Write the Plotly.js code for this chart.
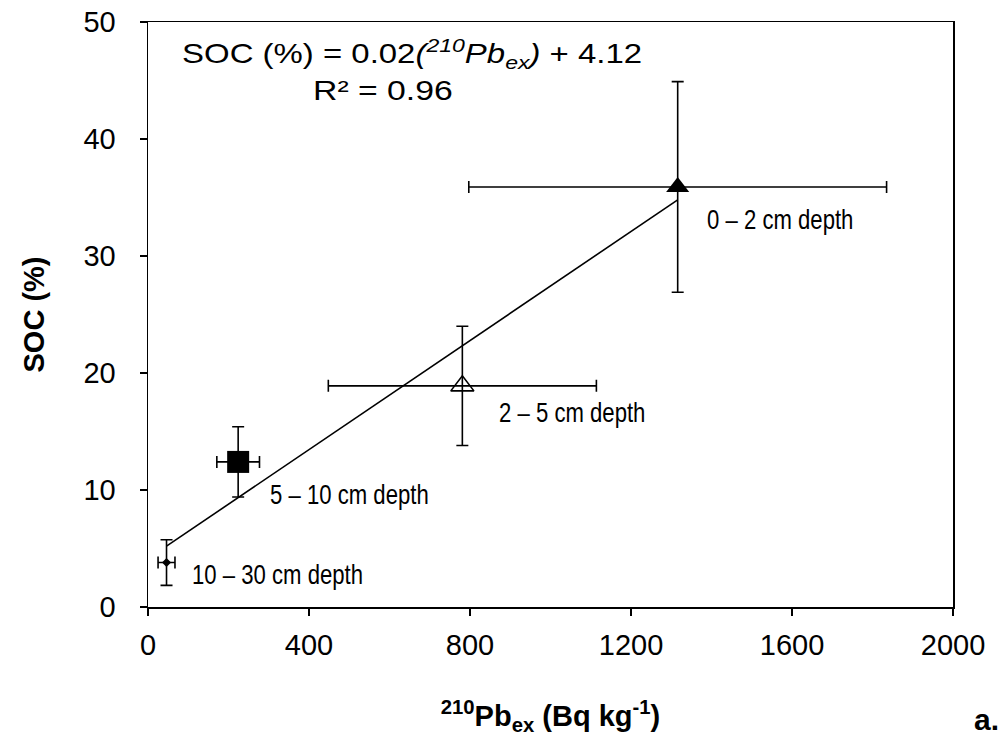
<!DOCTYPE html>
<html>
<head>
<meta charset="utf-8">
<script src="https://cdn.plot.ly/plotly-3.0.1.min.js"></script>
<style>html,body{margin:0;padding:0;background:#fff;}#chart{width:1004px;height:749px;}</style>
</head>
<body>
<div id="chart"></div>
<script>
// Data
const depths = ["0 – 2 cm depth", "2 – 5 cm depth", "5 – 10 cm depth", "10 – 30 cm depth"];
const pb210 = [1316, 781, 224, 46];
const pbErr = [519, 333, 53, 21];
const soc = [35.9, 18.9, 12.4, 3.8];
const socErr = [9.0, 5.1, 3.0, 1.95];
const symbols = ["triangle-up", "triangle-up-open", "square", "diamond"];
const sizes = [20, 20, 22, 7];
const trendX = [46, 1316];
const trendY = [5.2, 34.8];
const xTicks = [0, 400, 800, 1200, 1600, 2000];
const yTicks = [0, 10, 20, 30, 40, 50];
// label anchor positions (data coords)
const labelX = [1384, 867, 298, 104];
const labelY = [33.1, 16.6, 9.6, 2.74];

const FONT = "Liberation Sans, Arial, sans-serif";

const traces = [];
traces.push({
  x: trendX, y: trendY, mode: "lines", type: "scatter",
  line: {color: "#000", width: 1.6}, hoverinfo: "skip", showlegend: false
});
for (let i = 0; i < depths.length; i++) {
  traces.push({
    x: [pb210[i]], y: [soc[i]], type: "scatter", mode: "markers", name: depths[i],
    marker: {symbol: symbols[i], size: sizes[i], color: "#000",
             line: {color: "#000", width: symbols[i].endsWith("open") ? 1.6 : 0}},
    error_x: {type: "data", array: [pbErr[i]], visible: true, color: "#000", thickness: 1.6, width: 6},
    error_y: {type: "data", array: [socErr[i]], visible: true, color: "#000", thickness: 1.6, width: 6},
    showlegend: false
  });
}

const annotations = depths.map((d, i) => ({
  x: labelX[i], y: labelY[i], xref: "x", yref: "y", text: d, showarrow: false,
  xanchor: "left", yanchor: "middle", font: {family: FONT, size: 27, color: "#000"}
}));
annotations.push({
  x: 80, y: 47.3, xref: "x", yref: "y", showarrow: false, xanchor: "left", yanchor: "middle",
  text: "SOC (%) = 0.02<i>(<sup>210</sup>Pb<sub>ex</sub>)</i> + 4.12",
  font: {family: FONT, size: 27, color: "#000"}
});
annotations.push({
  x: 405, y: 44.1, xref: "x", yref: "y", showarrow: false, xanchor: "left", yanchor: "middle",
  text: "R² = 0.96", font: {family: FONT, size: 27, color: "#000"}
});
annotations.push({
  x: 1.0236, y: -0.193, xref: "paper", yref: "paper", showarrow: false, xanchor: "left", yanchor: "middle",
  text: "<b>a.</b>", font: {family: FONT, size: 30, color: "#000"}
});

const layout = {
  width: 1004, height: 749,
  margin: {l: 148, r: 51, t: 22, b: 142},
  paper_bgcolor: "#fff", plot_bgcolor: "#fff",
  font: {family: FONT, color: "#000"},
  xaxis: {
    range: [0, 2000], tickvals: xTicks, ticktext: xTicks.map(String),
    showgrid: false, zeroline: false, showline: true, linecolor: "#000", linewidth: 1.5, mirror: true,
    ticks: "outside", ticklen: 7, tickwidth: 1.5, tickcolor: "#000", ticklabelstandoff: 5,
    tickfont: {family: FONT, size: 29, color: "#000"},
    title: {text: "<b><sup>210</sup>Pb<sub>ex</sub> (Bq kg<sup>-1</sup>)</b>", standoff: 45,
            font: {family: FONT, size: 29, color: "#000"}}
  },
  yaxis: {
    range: [0, 50], tickvals: yTicks, ticktext: yTicks.map(String),
    showgrid: false, zeroline: false, showline: true, linecolor: "#000", linewidth: 1.5, mirror: true,
    ticks: "outside", ticklen: 7, tickwidth: 1.5, tickcolor: "#000", ticklabelstandoff: 18,
    tickfont: {family: FONT, size: 29, color: "#000"},
    title: {text: "<b>SOC (%)</b>", standoff: 30, font: {family: FONT, size: 29, color: "#000"}}
  },
  annotations: annotations,
  showlegend: false
};

function stretchText(el, s) {
  const t = el.querySelector("text");
  if (!t) return;
  const bb = t.getBBox();
  t.setAttribute("transform", "translate(" + (bb.x * (1 - s)) + ",0) scale(" + s + ",1)");
}

Plotly.newPlot("chart", traces, layout, {displayModeBar: false, staticPlot: true}).then(() => {
  const anns = document.querySelectorAll("#chart .annotation");
  // narrow face for the depth labels, wide setting for the fit equation (as in the reference)
  for (let i = 0; i < depths.length && i < anns.length; i++) stretchText(anns[i], 0.82);
  if (anns[depths.length]) stretchText(anns[depths.length], 1.22);
  if (anns[depths.length + 1]) stretchText(anns[depths.length + 1], 1.25);
});
</script>
</body>
</html>
